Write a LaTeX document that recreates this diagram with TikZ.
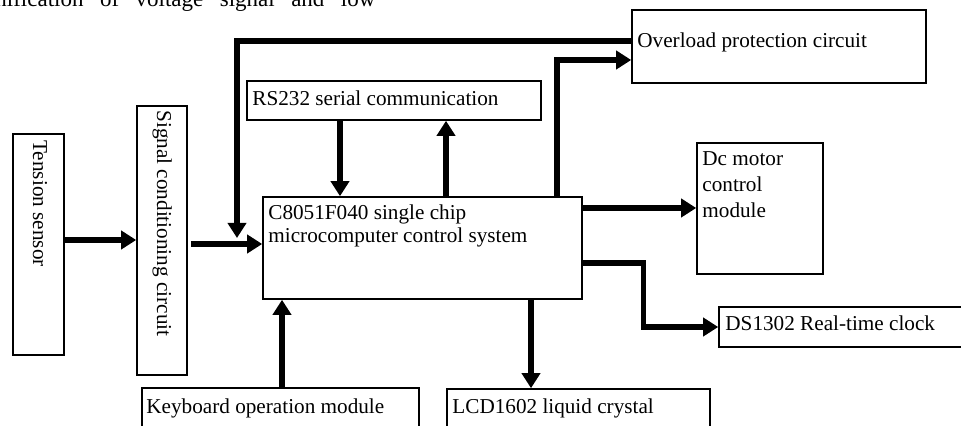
\documentclass[tikz,border=0pt]{standalone}
\usepackage{fontspec}
\setmainfont{Liberation Serif}
\usetikzlibrary{arrows.meta,fit,calc}

\begin{document}
\begin{tikzpicture}[
    x=0.5pt, y=-0.5pt,
    blk/.style={draw, line width=0.8pt, inner sep=0pt},
    lbl/.style={inner sep=0pt, align=left, font=\fontsize{10.6}{11.5}\selectfont},
    arr/.style={line width=2.6pt, -{Triangle[length=7.5pt,width=9pt]}}
]
\clip (0,0) rectangle (961,426);

% tail of the running text above the figure
\node[lbl, anchor=base west, font=\fontsize{11.5}{13}\selectfont] (runin) at (-5,7)
    {\makebox[190pt][s]{nification of voltage signal and low}};

% input chain
\node[blk, fit={(13,134) (64,355)}] (ten) {};
\node[lbl, rotate=-90, anchor=base west] (ten-t) at (33,140) {Tension sensor};
\node[blk, fit={(137,106) (187,375)}] (sig) {};
\node[lbl, rotate=-90, anchor=base west] (sig-t) at (157,110) {Signal conditioning circuit};

% controller and peripherals
\node[blk, fit={(263,197) (582,299)}] (mcu) {};
\node[lbl, anchor=base west] (mcu-t) at (268,243)
    {C8051F040 single chip\\microcomputer control system};
\node[blk, fit={(247,81) (541,120)}] (rs) {};
\node[lbl, anchor=base west] (rs-t) at (252,106) {RS232 serial communication};
\node[blk, fit={(632,10) (926,83)}] (ovl) {};
\node[lbl, anchor=base west] (ovl-t) at (637,48) {Overload protection circuit};
\node[blk, fit={(697,143) (823,274)}] (dc) {};
\node[lbl, anchor=base west, font=\fontsize{10.6}{13}\selectfont] (dc-t) at (702,218)
    {Dc motor\\control\\module};
\node[blk, fit={(719,307) (980,347)}] (ds) {};
\node[lbl, anchor=base west] (ds-t) at (725,331) {DS1302 Real-time clock};
\node[blk, fit={(447,389) (710,450)}] (lcd) {};
\node[lbl, anchor=base west] (lcd-t) at (452,413) {LCD1602 liquid crystal};
\node[blk, fit={(142,388) (419,450)}] (kbd) {};
\node[lbl, anchor=base west] (kbd-t) at (146,413) {Keyboard operation module};

% signal path
\draw[arr] (ten.east |- 0,240) -- (sig.west |- 0,240);
\draw[arr] ([xshift=1.5pt]sig.east |- 0,244) -- (mcu.west |- 0,244);

% feedback from the overload circuit
\coordinate (fb) at (237,238);
\draw[arr] (ovl.west |- 0,41) -| (fb);

% links around the controller
\draw[arr] (rs.south -| 340,0) -- (mcu.north -| 340,0);
\draw[arr] (mcu.north -| 446,0) -- (rs.south -| 446,0);
\draw[arr] (mcu.north -| 557,0) |- (ovl.west |- 0,60);
\draw[arr] (mcu.east |- 0,208) -- (dc.west |- 0,208);
\draw[arr] (mcu.east |- 0,263) -- ++(61,0) |- (ds.west);
\draw[arr] (mcu.south -| 531,0) -- (lcd.north -| 531,0);
\draw[arr] (kbd.north -| 282,0) -- (mcu.south -| 282,0);

\end{tikzpicture}
\end{document}
